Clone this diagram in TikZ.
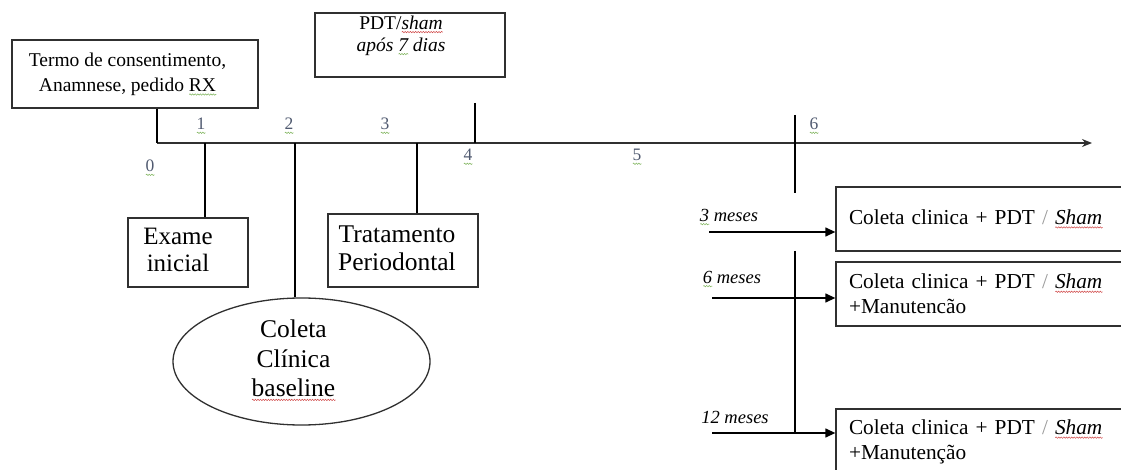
\documentclass[tikz,border=0pt]{standalone}
\usepackage{fontspec}
\setmainfont{Liberation Serif}
\usetikzlibrary{shapes.geometric,arrows.meta,decorations.pathmorphing}
\definecolor{ln}{HTML}{303030}
\definecolor{tickc}{HTML}{505A70}
\definecolor{spgreen}{HTML}{7DB35A}
\definecolor{spred}{HTML}{D04848}
\definecolor{slash}{HTML}{9A9A9A}
\newlength{\wavyw}
\newcommand{\wavy}[2]{\setbox0\hbox{#2}\setlength{\wavyw}{\wd0}\rlap{\tikz[baseline=0pt,x=1pt,y=1pt]{\draw[draw=#1,line width=0.5pt,decorate,decoration={snake,amplitude=0.7pt,segment length=2.6pt}] (0pt,-3pt) -- (\wavyw,-3pt);}}\box0\relax}
\newcommand{\tnum}[1]{\wavy{spgreen}{\textcolor{tickc}{#1}}}
% centred lines, pushed left by half of #1
\newcommand{\lines}[2]{\begin{tabular}{@{}c@{}}#2\end{tabular}\hspace*{#1}}
\begin{document}
\begin{tikzpicture}[x=1pt,y=-1pt,
  box/.style={draw=ln,line width=1.3pt,rectangle,inner sep=0pt},
  rbox/.style={draw=ln,line width=1.3pt,rectangle,inner ysep=0pt,inner xsep=13pt,
     text width=278pt,align=left,font=\fontsize{21.3}{25}\selectfont},
  conn/.style={draw=black,line width=1.3pt},
  arr/.style={draw=black,line width=1.3pt,-{Triangle[length=10pt,width=9pt]}},
  ticklab/.style={inner sep=0pt,font=\fontsize{17.5}{18}\selectfont},
  meslab/.style={inner sep=0pt,font=\fontsize{18.5}{20}\selectfont\itshape}]
\useasboundingbox (0,0) rectangle (1121,470);
\clip (0,0) rectangle (1121,470);

% top boxes
\node[box,minimum width=246pt,minimum height=68pt,font=\fontsize{19.5}{25}\selectfont]
  (termo) at (135,74) {\lines{15pt}{Termo de consentimento,\\Anamnese, pedido \wavy{spgreen}{RX}}};
\node[box,minimum width=190pt,minimum height=64pt] (pdt) at (410,45) {};
\node[inner sep=0pt,anchor=north,align=center,font=\fontsize{19.5}{22}\selectfont]
  (pdttext) at ([xshift=-9pt,yshift=-3pt]pdt.north) {PDT/\textit{\wavy{spred}{sham}}\\\textit{após \wavy{spgreen}{7} dias}};

% timeline
\coordinate (t0) at (157,143);
\coordinate (t1) at (205,143);
\coordinate (t2) at (295,143);
\coordinate (t3) at (417,143);
\coordinate (t4) at (475,143);
\coordinate (t4top) at (475,103);
\coordinate (t6top) at (795,115);
\coordinate (t6bot) at (795,193);
\coordinate (tend) at (1092,143);
\draw[draw=ln,line width=2.6pt,-{Stealth[length=10pt,width=8pt]}] (t0) -- (tend);

% tick labels
\node[ticklab] (l0) at (150,168) {\tnum{0}};
\node[ticklab] (l1) at (201,126) {\tnum{1}};
\node[ticklab] (l2) at (289,126) {\tnum{2}};
\node[ticklab] (l3) at (385,126) {\tnum{3}};
\node[ticklab] (l4) at (468,157) {\tnum{4}};
\node[ticklab] (l5) at (637,157) {\tnum{5}};
\node[ticklab] (l6) at (814,126) {\tnum{6}};

% lower boxes
\node[box,minimum width=120pt,minimum height=69pt,font=\fontsize{25}{27}\selectfont]
  (exame) at (188,252.5) {\lines{20pt}{Exame\\inicial}};
\node[box,minimum width=150pt,minimum height=73pt,font=\fontsize{25.5}{28}\selectfont]
  (trat) at (403,250.5) {\lines{12pt}{Tratamento\\Periodontal}};
\node[draw=ln,line width=1.3pt,ellipse,inner sep=0pt,minimum width=257pt,minimum height=127pt,
  font=\fontsize{25.5}{29.5}\selectfont] (coleta) at (301.5,361.5)
  {\lines{16pt}{Coleta\\Clínica\\\wavy{spred}{baseline}}};

% connectors
\draw[conn] (termo.south -| t0) -- (t0);
\draw[conn] (t1) -- (t1 |- exame.north);
\draw[conn] (t2) -- (t2 |- coleta.north);
\draw[conn] (t3) -- (t3 |- trat.north);
\draw[conn] (t4top) -- (t4);
\draw[conn] (t6top) -- (t6bot);

% right boxes
\node[rbox,minimum height=64pt] (rb1) at (988,219)
  {Coleta clinica + PDT \textcolor{slash}{/} \textit{\wavy{spred}{Sham}}};
\node[rbox,minimum height=64pt] (rb2) at (988,294)
  {Coleta clinica + PDT \textcolor{slash}{/} \textit{\wavy{spred}{Sham}}\\+Manutencão};
\node[rbox,minimum height=66pt] (rb3) at (988,442)
  {Coleta clinica + PDT \textcolor{slash}{/} \textit{\wavy{spred}{Sham}}\\+Manutenção};

% month arrows
\coordinate (a3) at (709,232);
\coordinate (a6) at (712,298);
\coordinate (a12) at (712,433);
\coordinate (v6) at (795,251);
\draw[conn] (v6) -- (v6 |- a12);
\draw[arr] (a3) -- (a3 -| rb1.west);
\draw[arr] (a6) -- (a6 -| rb2.west);
\draw[arr] (a12) -- (a12 -| rb3.west);
\node[meslab] (m3) at (729,217) {\wavy{spgreen}{3} meses};
\node[meslab] (m6) at (732,279) {\wavy{spgreen}{6} meses};
\node[meslab] (m12) at (735,417) {12 meses};
\end{tikzpicture}
\end{document}
